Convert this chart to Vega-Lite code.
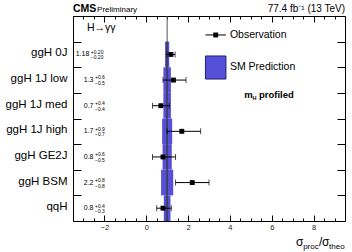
{
  "$schema": "https://vega.github.io/schema/vega-lite/v6.json",
  "width": 272,
  "height": 205,
  "autosize": {"type": "none"},
  "padding": {"left": 73, "top": 16, "right": 7, "bottom": 31},
  "background": "white",
  "config": {
    "view": {"stroke": "black", "strokeWidth": 1},
    "font": "Liberation Sans",
    "axis": {"domain": false, "grid": false, "tickColor": "black", "tickWidth": 1, "labelFont": "Liberation Sans"},
    "text": {"font": "Liberation Sans", "color": "black"}
  },
  "datasets": {
    "rows": [
      {"name": "ggH 0J", "mu": 1.18, "up": 0.20, "dn": -0.20, "smLo": 0.90, "smHi": 1.10},
      {"name": "ggH 1J low", "mu": 1.3, "up": 0.6, "dn": -0.5, "smLo": 0.82, "smHi": 1.18},
      {"name": "ggH 1J med", "mu": 0.7, "up": 0.4, "dn": -0.4, "smLo": 0.82, "smHi": 1.18},
      {"name": "ggH 1J high", "mu": 1.7, "up": 0.9, "dn": -0.7, "smLo": 0.76, "smHi": 1.24},
      {"name": "ggH GE2J", "mu": 0.8, "up": 0.6, "dn": -0.5, "smLo": 0.78, "smHi": 1.22},
      {"name": "ggH BSM", "mu": 2.2, "up": 0.8, "dn": -0.8, "smLo": 0.71, "smHi": 1.29},
      {"name": "qqH", "mu": 0.8, "up": 0.4, "dn": -0.3, "smLo": 0.84, "smHi": 1.16}
    ]
  },
  "layer": [
    {
      "data": {"name": "rows"},
      "mark": {"type": "bar", "color": "#5650d8", "opacity": 1},
      "encoding": {
        "x": {"field": "smLo", "type": "quantitative", "scale": {"domain": [-3.5, 9.5], "nice": false, "zero": false},
          "axis": {"orient": "bottom", "values": [-2, 0, 2, 4, 6, 8], "tickSize": -6, "labelPadding": 8, "labelFontSize": 7.5, "labelColor": "#222", "title": null}},
        "x2": {"field": "smHi"},
        "y": {"field": "name", "type": "nominal",
          "scale": {"domain": [" ", "ggH 0J", "ggH 1J low", "ggH 1J med", "ggH 1J high", "ggH GE2J", "ggH BSM", "qqH"], "paddingInner": 0, "paddingOuter": 0},
          "axis": {"orient": "left", "tickBand": "extent", "tickSize": -8, "labelPadding": 14, "labelFontSize": 11.5, "labelColor": "black", "labelOffset": -1.5, "title": null}}
      }
    },
    {
      "data": {"name": "rows"},
      "mark": {"type": "bar", "color": "#15153a"},
      "encoding": {
        "x": {"datum": 0.97, "type": "quantitative",
          "axis": {"orient": "bottom", "values": [-3, -2.5, -1.5, -1, -0.5, 0.5, 1, 1.5, 2.5, 3, 3.5, 4.5, 5, 5.5, 6.5, 7, 7.5, 8.5, 9], "tickSize": -3, "labels": false, "title": null}},
        "x2": {"datum": 1.03},
        "y": {"field": "name", "type": "nominal",
          "scale": {"domain": [" ", "ggH 0J", "ggH 1J low", "ggH 1J med", "ggH 1J high", "ggH GE2J", "ggH BSM", "qqH"], "paddingInner": 0, "paddingOuter": 0},
          "axis": {"orient": "right", "tickBand": "extent", "tickSize": -8, "labels": false, "title": null}}
      }
    },
    {
      "data": {"values": [{"sm": 1}]},
      "mark": {"type": "rule", "color": "#555", "strokeWidth": 1},
      "encoding": {
        "x": {"field": "sm", "type": "quantitative", "axis": null}
      }
    },
    {
      "data": {"name": "rows"},
      "mark": {"type": "errorbar", "color": "black", "thickness": 1, "ticks": {"size": 6, "thickness": 1, "color": "black"}},
      "encoding": {
        "x": {"field": "mu", "type": "quantitative", "axis": null},
        "xError": {"field": "up"},
        "xError2": {"field": "dn"},
        "y": {"field": "name", "type": "nominal",
          "scale": {"domain": [" ", "ggH 0J", "ggH 1J low", "ggH 1J med", "ggH 1J high", "ggH GE2J", "ggH BSM", "qqH"], "paddingInner": 0, "paddingOuter": 0},
          "axis": null}
      }
    },
    {
      "data": {"name": "rows"},
      "mark": {"type": "square", "color": "black", "filled": true, "opacity": 1, "size": 24},
      "encoding": {
        "x": {"field": "mu", "type": "quantitative",
          "axis": {"orient": "top", "values": [-2, 0, 2, 4, 6, 8], "tickSize": -6, "labels": false, "title": null}},
        "y": {"field": "name", "type": "nominal",
          "scale": {"domain": [" ", "ggH 0J", "ggH 1J low", "ggH 1J med", "ggH 1J high", "ggH GE2J", "ggH BSM", "qqH"], "paddingInner": 0, "paddingOuter": 0},
          "axis": null}
      }
    },
    {
      "data": {"name": "rows"},
      "transform": [{"filter": "datum.name !== 'ggH 0J'"}],
      "layer": [
        {
          "mark": {"type": "text", "align": "right", "baseline": "middle", "fontSize": 7},
          "encoding": {"x": {"datum": -2.52, "axis": null}, "text": {"field": "mu", "format": ".1f"}}
        },
        {
          "mark": {"type": "text", "align": "left", "baseline": "middle", "fontSize": 5, "dy": -2.6},
          "encoding": {"x": {"datum": -2.45, "axis": null}, "text": {"field": "up", "format": "+.1f"}}
        },
        {
          "mark": {"type": "text", "align": "left", "baseline": "middle", "fontSize": 5, "dy": 3},
          "encoding": {"x": {"datum": -2.45, "axis": null}, "text": {"field": "dn", "format": "+.1f"}}
        }
      ],
      "encoding": {
        "y": {"field": "name", "type": "nominal",
          "scale": {"domain": [" ", "ggH 0J", "ggH 1J low", "ggH 1J med", "ggH 1J high", "ggH GE2J", "ggH BSM", "qqH"], "paddingInner": 0, "paddingOuter": 0},
          "axis": null}
      }
    },
    {
      "data": {"name": "rows"},
      "transform": [{"filter": "datum.name === 'ggH 0J'"}],
      "layer": [
        {
          "mark": {"type": "text", "align": "right", "baseline": "middle", "fontSize": 7},
          "encoding": {"x": {"datum": -2.72, "axis": null}, "text": {"field": "mu", "format": ".2f"}}
        },
        {
          "mark": {"type": "text", "align": "left", "baseline": "middle", "fontSize": 5, "dy": -2.6},
          "encoding": {"x": {"datum": -2.65, "axis": null}, "text": {"field": "up", "format": "+.2f"}}
        },
        {
          "mark": {"type": "text", "align": "left", "baseline": "middle", "fontSize": 5, "dy": 3},
          "encoding": {"x": {"datum": -2.65, "axis": null}, "text": {"field": "dn", "format": "+.2f"}}
        }
      ],
      "encoding": {
        "y": {"field": "name", "type": "nominal",
          "scale": {"domain": [" ", "ggH 0J", "ggH 1J low", "ggH 1J med", "ggH 1J high", "ggH GE2J", "ggH BSM", "qqH"], "paddingInner": 0, "paddingOuter": 0},
          "axis": null}
      }
    },
    {
      "data": {"values": [{"u": 2.83, "u2": 3.81, "v": 7.26}]},
      "mark": {"type": "rule", "color": "black", "strokeWidth": 1},
      "encoding": {
        "x": {"field": "u", "type": "quantitative",
          "axis": {"orient": "top", "values": [-3, -2.5, -1.5, -1, -0.5, 0.5, 1, 1.5, 2.5, 3, 3.5, 4.5, 5, 5.5, 6.5, 7, 7.5, 8.5, 9], "tickSize": -3, "labels": false, "title": null}},
        "x2": {"field": "u2"},
        "y": {"field": "v", "type": "quantitative", "scale": {"domain": [0, 8], "nice": false, "zero": false}, "axis": null}
      }
    },
    {
      "data": {"values": [{"u": 3.32, "v": 7.26}]},
      "mark": {"type": "square", "color": "black", "filled": true, "opacity": 1, "size": 24},
      "encoding": {
        "x": {"field": "u", "type": "quantitative", "axis": null},
        "y": {"field": "v", "type": "quantitative", "scale": {"domain": [0, 8], "nice": false, "zero": false}, "axis": null}
      }
    },
    {
      "data": {"values": [{"u": 2.83, "u2": 3.81, "v": 5.54, "v2": 6.44}]},
      "mark": {"type": "rect", "fill": "#5650d8", "stroke": "#23236a", "strokeWidth": 1},
      "encoding": {
        "x": {"field": "u", "type": "quantitative", "axis": null},
        "x2": {"field": "u2"},
        "y": {"field": "v", "type": "quantitative", "scale": {"domain": [0, 8], "nice": false, "zero": false}, "axis": null},
        "y2": {"field": "v2"}
      }
    },
    {
      "data": {"values": [
        {"t": "Observation", "u": 4.0, "v": 7.26},
        {"t": "SM Prediction", "u": 4.0, "v": 6.0},
        {"t": "H→γγ", "u": -2.83, "v": 7.53}
      ]},
      "mark": {"type": "text", "align": "left", "baseline": "middle", "fontSize": 10.5},
      "encoding": {
        "x": {"field": "u", "type": "quantitative", "axis": null},
        "y": {"field": "v", "type": "quantitative", "scale": {"domain": [0, 8], "nice": false, "zero": false}, "axis": null},
        "text": {"field": "t"}
      }
    },
    {
      "data": {"values": [
        {"t": "m", "u": 4.68, "v": 4.92},
        {"t": "profiled", "u": 5.39, "v": 4.92}
      ]},
      "mark": {"type": "text", "align": "left", "baseline": "middle", "fontSize": 9.5, "fontWeight": "bold"},
      "encoding": {
        "x": {"field": "u", "type": "quantitative", "axis": null},
        "y": {"field": "v", "type": "quantitative", "scale": {"domain": [0, 8], "nice": false, "zero": false}, "axis": null},
        "text": {"field": "t"}
      }
    },
    {
      "data": {"values": [{"t": "H", "u": 5.08, "v": 4.80}]},
      "mark": {"type": "text", "align": "left", "baseline": "middle", "fontSize": 5.5, "fontWeight": "bold"},
      "encoding": {
        "x": {"field": "u", "type": "quantitative", "axis": null},
        "y": {"field": "v", "type": "quantitative", "scale": {"domain": [0, 8], "nice": false, "zero": false}, "axis": null},
        "text": {"field": "t"}
      }
    },
    {
      "data": {"values": [{"t": "CMS", "u": -3.5, "v": 8.137}]},
      "mark": {"type": "text", "align": "left", "baseline": "alphabetic", "fontSize": 10.5, "fontWeight": "bold"},
      "encoding": {
        "x": {"field": "u", "type": "quantitative", "axis": null},
        "y": {"field": "v", "type": "quantitative", "scale": {"domain": [0, 8], "nice": false, "zero": false}, "axis": null},
        "text": {"field": "t"}
      }
    },
    {
      "data": {"values": [{"t": "Preliminary", "u": -2.35, "v": 8.137}]},
      "mark": {"type": "text", "align": "left", "baseline": "alphabetic", "fontSize": 8},
      "encoding": {
        "x": {"field": "u", "type": "quantitative", "axis": null},
        "y": {"field": "v", "type": "quantitative", "scale": {"domain": [0, 8], "nice": false, "zero": false}, "axis": null},
        "text": {"field": "t"}
      }
    },
    {
      "data": {"values": [{"t": "77.4 fb⁻¹ (13 TeV)", "u": 9.5, "v": 8.137}]},
      "mark": {"type": "text", "align": "right", "baseline": "alphabetic", "fontSize": 10},
      "encoding": {
        "x": {"field": "u", "type": "quantitative", "axis": null},
        "y": {"field": "v", "type": "quantitative", "scale": {"domain": [0, 8], "nice": false, "zero": false}, "axis": null},
        "text": {"field": "t"}
      }
    },
    {
      "data": {"values": [
        {"t": "σ", "u": 7.16, "v": -0.976},
        {"t": "/", "u": 8.26, "v": -0.976},
        {"t": "σ", "u": 8.40, "v": -0.976}
      ]},
      "mark": {"type": "text", "align": "left", "baseline": "alphabetic", "fontSize": 12},
      "encoding": {
        "x": {"field": "u", "type": "quantitative", "axis": null},
        "y": {"field": "v", "type": "quantitative", "scale": {"domain": [0, 8], "nice": false, "zero": false}, "axis": null},
        "text": {"field": "t"}
      }
    },
    {
      "data": {"values": [
        {"t": "proc", "u": 7.50, "v": -1.09},
        {"t": "theo", "u": 8.74, "v": -1.09}
      ]},
      "mark": {"type": "text", "align": "left", "baseline": "alphabetic", "fontSize": 8},
      "encoding": {
        "x": {"field": "u", "type": "quantitative", "axis": null},
        "y": {"field": "v", "type": "quantitative", "scale": {"domain": [0, 8], "nice": false, "zero": false}, "axis": null},
        "text": {"field": "t"}
      }
    }
  ],
  "resolve": {
    "scale": {"y": "independent"},
    "axis": {"x": "independent", "y": "independent"}
  }
}
